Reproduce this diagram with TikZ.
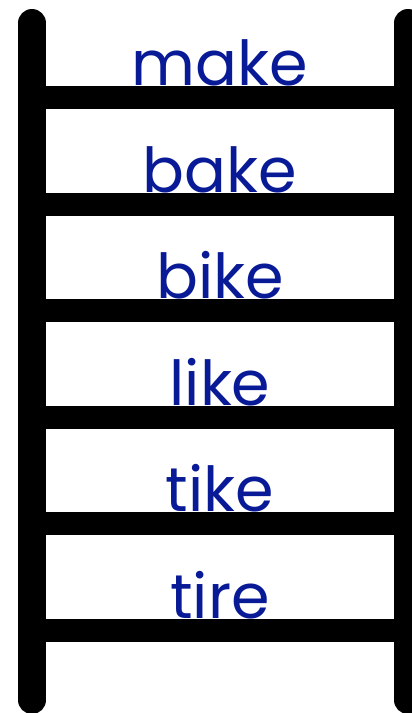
\documentclass[tikz,border=0pt]{standalone}
\usepackage{fontspec}
\setmainfont{Poppins}
\definecolor{wordblue}{RGB}{8,26,150}
\begin{document}
\begin{tikzpicture}[x=1pt,y=-1pt,
  rail/.style={line width=28pt,line cap=round},
  rung/.style={line width=23pt,line cap=butt},
  word/.style={anchor=base,inner sep=0pt,text=wordblue,font=\fontsize{62}{70}\selectfont}]
\useasboundingbox (0,0) rectangle (412,713);
\clip (0,0) rectangle (412,713);
% words
\foreach \w [count=\i from 0] in {make,bake,bike,like,tike,tire}{
  \node[word] (w\i) at (220,{97.5+\i*106.5-12}) {\w};
}
% rungs
\foreach \i in {0,...,5}{
  \draw[rung] (32,{97.5+\i*106.5}) -- (408,{97.5+\i*106.5});
}
% rails
\draw[rail] (32,23) -- (32,700);
\draw[rail] (408,23) -- (408,700);
\end{tikzpicture}
\end{document}
